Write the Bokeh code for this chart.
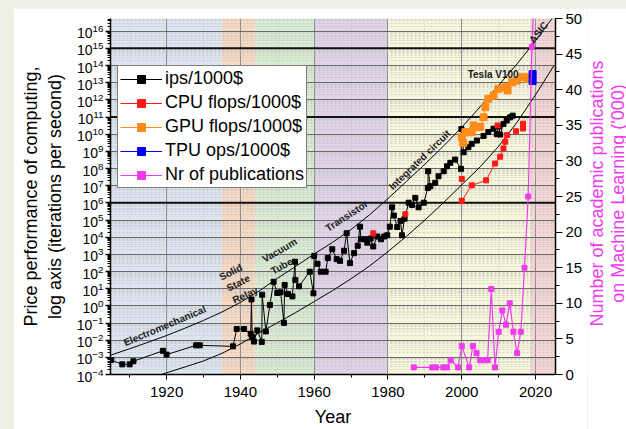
import math
from bokeh.plotting import figure
from bokeh.models import (Range1d, LinearAxis, LinearScale, FixedTicker, SingleIntervalTicker,
                          LogTickFormatter, BoxAnnotation, Label, Span, Spacer)
from bokeh.layouts import row, column
from bokeh.embed import file_html
from bokeh.resources import INLINE

FONT = "Liberation Sans"
nan = float("nan")

# ---------------- data ----------------
era_name = ["Electromechanical", "Solid State Relay", "Vacuum Tube", "Transistor",
            "Integrated circuit", "ASIC"]
era_start = [1904.8, 1935, 1944, 1960, 1980, 2018.5]
era_end = [1935, 1944, 1960, 1980, 2018.5, 2025.4]
era_color = ["#dbe5ef", "#f6d9c3", "#d9ead3", "#e0d3e8", "#f6f6dc", "#f4d6d6"]

# ips/1000$ (log10 values)
ips_year = [1905, 1908, 1910, 1911, 1919, 1920, 1928, 1929, 1938, 1939, 1941, 1942.8,
            1943, 1943.2, 1943.7, 1944.6, 1945.8, 1945.9, 1946.9, 1948, 1949, 1950,
            1950.9, 1951.8, 1952, 1952.9, 1954.1, 1954.8, 1954.9, 1955.9, 1958.8, 1959.8,
            1960, 1960.9, 1961.8, 1963.1, 1963.7, 1964.9, 1966.1, 1967, 1968.1, 1968.8,
            1969.7, 1970.8, 1971.8, 1972.4, 1972.7, 1973.9, 1974.4, 1975.3, 1976, 1977.1,
            1978.1, 1979, 1979.8, 1980.5, 1981.1, 1981.6, 1982.5, 1983.4, 1983.8, 1984.5,
            1985.6, 1986.5, 1987.4, 1988.3, 1989.7, 1990.8, 1990.9, 1991.5, 1992.8, 1993.7,
            1995.1, 1996, 1996.9, 1998.2, 1999.8, 1999.9, 2000.5, 2001.8, 2002.7, 2004.1,
            2005.9, 2007.2, 2008.6, 2009.5, 2010, 2010.4, 2011.3, 2012.2, 2013.1, 2013.8]
ips_exp = [-3.16, -3.41, -3.41, -3.23, -2.62, -2.84, -2.30, -2.30, -2.36, -1.35, -1.35, -1.63,
           0.37, -1.82, -2.08, -1.43, -2.10, 0.65, -1.49, 0.05, 1.40, 0.75,
           0.79, -0.99, 1.22, 0.69, 0.55, 2.57, 1.51, 1.14, 1.99, 0.73,
           2.91, 2.45, 1.99, 1.99, 2.78, 3.30, 2.72, 2.62, 3.21, 4.23,
           2.49, 3.07, 3.50, 4.61, 3.88, 3.88, 3.68, 3.92, 3.46, 4.04,
           3.88, 4.04, 4.11, 4.61, 5.74, 5.26, 4.59, 4.95, 4.11, 5.08,
           6.01, 5.88, 6.29, 5.74, 6.01, 6.87, 7.84, 6.97, 7.17, 7.55,
           7.84, 8.13, 8.33, 8.52, 7.98, 10.30, 8.95, 9.24, 9.44, 9.63,
           9.90, 10.13, 10.32, 10.00, 10.45, 9.98, 10.60, 10.80, 10.98, 11.08]

# CPU flops/1000$ (log10 values, nan = gap in the line)
cpu_year = [1976, nan, 1984.7, nan, 2000, 2002.7, 2006.6, 2009, 2010.4, 2011.3, 2011.8, 2012.3,
            nan, 2000, nan, 2009.7, nan, 2014.7, nan, 2016.6, 2016.6]
cpu_exp = [4.23, nan, 5.34, nan, 6.12, 7.02, 7.31, 8.29, 8.69, 9.17, 9.56, 9.95,
           nan, 7.39, nan, 10.51, nan, 10.17, nan, 10.33, 10.61]

# GPU flops/1000$ (log10 values)
gpu_year = [2000, 2000.4, 2001, 2002.7, 2003.2, 2004, 2005, 2005.9, 2006.4, 2007.2, 2008.6,
            2009.9, 2011.8, 2012.4, 2013.6, 2014.9, 2016.3, 2017.6, 2018]
gpu_exp = [9.84, 9.5, 10.12, 10.12, 10.51, 10.4, 10.42, 10.99, 11.58, 12.06, 12.25,
           12.64, 12.74, 12.55, 13.02, 13.12, 13.32, 13.32, 13.22]

# TPU ops/1000$ (log10 values)
tpu_year = [2019.2, 2019.2]
tpu_exp = [13.1, 13.5]

# Number of ML publications ('000)
pub_year = [1987, 1992, 1993, 1995, 1996, 1997, 1999, 2000, 2002, 2003, 2004, 2005, 2006,
            2007, 2008, 2009, 2010, 2011, 2012, 2013, 2014, 2015, 2016, 2017, 2018, 2019, 2020]
pub_count = [1, 1, 1, 1, 1, 2, 1, 4, 1, 4, 3, 2, 2, 2, 12, 1, 6, 9, 7, 10, 6, 3, 6, 15, 25, 46, 57]

# trend curves (log10 values)
upper_year = [1905, 1910, 1915, 1920, 1925, 1930, 1935, 1940, 1945, 1950, 1955, 1960, 1965,
              1970, 1975, 1980, 1985, 1990, 1995, 2000, 2005, 2010, 2015, 2020, 2025]
upper_exp = [-2.86, -2.5, -2.12, -1.73, -1.3, -0.85, -0.36, 0.2, 0.85, 1.6, 2.3, 3.02, 3.7,
             4.45, 5.3, 6.25, 7.25, 8.25, 9.3, 10.4, 11.6, 12.85, 14.1, 15.45, 16.9]
lower_year = [1915, 1920, 1925, 1930, 1935, 1940, 1945, 1950, 1955, 1960, 1965, 1970, 1975,
              1980, 1985, 1990, 1995, 2000, 2005, 2010, 2015, 2020, 2025]
lower_exp = [-4.25, -3.9, -3.56, -3.21, -2.77, -2.22, -1.58, -0.99, -0.39, 0.25, 0.89, 1.58,
             2.32, 3.16, 4.05, 5.0, 6.0, 7.05, 8.1, 9.3, 10.7, 12.3, 14.0]

# text annotations: (text, year, log10 value, angle in degrees)
notes = [("Electromechanical", 1919.5, -1.16, 23), ("Solid", 1937.4, 1.97, 27),
         ("State", 1939.4, 1.33, 27), ("Relay", 1941.3, 0.63, 25),
         ("Vacuum", 1950.6, 3.24, 30), ("Tube", 1951.2, 2.32, 29),
         ("Transistor", 1968.8, 5.24, 33), ("Integrated circuit", 1988.6, 8.51, 44),
         ("ASIC", 2020.8, 15.93, 52), ("Tesla V100", 2008.5, 13.5, 0)]

heavy_decades = [15, 11, 6]

left_title = "Price performance of computing,\nlog axis (iterations per second)"
right_title = "Number of academic publications\non Machine Learning ('000)"


def pw(v):
    return [10.0 ** e if e == e else nan for e in v]


# ---------------- main figure ----------------
p = figure(width=574, height=421,
           x_range=Range1d(1904.8, 2025.4), y_range=Range1d(1e-4, 10 ** 16.74),
           y_axis_type="log", output_backend="svg", toolbar_location=None,
           min_border_left=97, min_border_right=32, min_border_top=10, min_border_bottom=53,
           background_fill_color="white", border_fill_color="white", outline_line_color=None)
p.extra_y_ranges = {"pubs": Range1d(0, 50)}
p.extra_y_scales = {"pubs": LinearScale()}

for s, e, c in zip(era_start, era_end, era_color):
    p.add_layout(BoxAnnotation(left=s, right=e, fill_color=c, fill_alpha=1.0,
                               line_color=None, level="image"))

# ticks & grids
yt = FixedTicker(ticks=[10.0 ** k for k in range(-4, 17)],
                 minor_ticks=[m * 10.0 ** k for k in range(-4, 17) for m in range(2, 10)])
xt = SingleIntervalTicker(interval=20, num_minor_ticks=2)
p.xaxis.ticker = xt
p.xgrid.ticker = xt
p.yaxis.ticker = yt
p.ygrid.ticker = yt

p.ygrid.grid_line_color = "#6a6a6a"
p.ygrid.grid_line_width = 1
p.ygrid.minor_grid_line_color = "#b8b8b8"
p.ygrid.minor_grid_line_alpha = 0.55
p.ygrid.minor_grid_line_dash = "2 2"
p.xgrid.grid_line_color = "#8a8a8a"
p.xgrid.grid_line_width = 1
p.xgrid.minor_grid_line_color = "#c4c4c4"
p.xgrid.minor_grid_line_alpha = 0.6
p.xgrid.minor_grid_line_dash = "2 2"

for d in heavy_decades:
    p.add_layout(Span(location=10.0 ** d, dimension="width", line_color="#111111",
                      line_width=2, level="underlay"))

# axes
xa = p.xaxis[0]
xa.axis_label = "Year"
xa.axis_label_text_font = FONT
xa.axis_label_text_font_size = "18px"
xa.axis_label_text_font_style = "normal"
xa.axis_label_text_color = "black"
xa.axis_label_standoff = 7
xa.major_label_text_font = FONT
xa.major_label_text_font_size = "15px"
xa.major_label_text_color = "black"
xa.major_label_standoff = 7
xa.axis_line_color = "black"
xa.axis_line_width = 1.5
xa.major_tick_out = 5
xa.major_tick_in = 0
xa.minor_tick_out = 3
xa.minor_tick_in = 0
xa.major_tick_line_color = "black"
xa.minor_tick_line_color = "black"

ya = p.yaxis[0]
ya.formatter = LogTickFormatter()
ya.axis_label = left_title
ya.axis_label_text_font = FONT
ya.axis_label_text_font_size = "18px"
ya.axis_label_text_font_style = "normal"
ya.axis_label_text_color = "black"
ya.axis_label_standoff = 9
ya.major_label_text_font = FONT
ya.major_label_text_font_size = "14px"
ya.major_label_text_color = "black"
ya.major_label_standoff = 2
ya.axis_line_color = "black"
ya.axis_line_width = 1.5
ya.major_tick_out = 5
ya.major_tick_in = 0
ya.minor_tick_out = 3
ya.minor_tick_in = 0
ya.major_tick_line_color = "black"
ya.minor_tick_line_color = "black"
ya.major_tick_line_width = 1.5

ra = LinearAxis(y_range_name="pubs", ticker=SingleIntervalTicker(interval=5, num_minor_ticks=2))
ra.major_label_text_font = FONT
ra.major_label_text_font_size = "15px"
ra.major_label_text_color = "black"
ra.major_label_standoff = 3
ra.axis_line_color = "black"
ra.axis_line_width = 1.5
ra.major_tick_out = 7
ra.major_tick_in = 0
ra.minor_tick_out = 4
ra.minor_tick_in = 0
ra.major_tick_line_color = "black"
ra.minor_tick_line_color = "black"
p.add_layout(ra, "right")

# trend curves
p.line(upper_year, pw(upper_exp), line_color="black", line_width=1)
p.line(lower_year, pw(lower_exp), line_color="black", line_width=1)

# series
p.line(ips_year, pw(ips_exp), line_color="black", line_width=1, legend_label="ips/1000$")
p.scatter(ips_year, pw(ips_exp), marker="square", size=5, fill_color="black",
          line_color="black", legend_label="ips/1000$")

p.line(cpu_year, pw(cpu_exp), line_color="#ff1a1a", line_width=1, legend_label="CPU flops/1000$")
p.scatter(cpu_year, pw(cpu_exp), marker="square", size=5, fill_color="#ff1a1a",
          line_color="#ff1a1a", legend_label="CPU flops/1000$")

p.line(gpu_year, pw(gpu_exp), line_color="#ff8c1a", line_width=1, legend_label="GPU flops/1000$")
p.scatter(gpu_year, pw(gpu_exp), marker="square", size=7, fill_color="#ff8c1a",
          line_color="#ff8c1a", legend_label="GPU flops/1000$")

p.line(tpu_year, pw(tpu_exp), line_color="#0000ee", line_width=1, legend_label="TPU ops/1000$")
p.scatter(tpu_year, pw(tpu_exp), marker="square", size=7, fill_color="#0000ee",
          line_color="#0000ee", legend_label="TPU ops/1000$")

p.line(pub_year, pub_count, y_range_name="pubs", line_color="#ee3bee", line_width=1.2,
       legend_label="Nr of publications")
p.scatter(pub_year, pub_count, y_range_name="pubs", marker="square", size=5,
          fill_color="#ee3bee", line_color="#ee3bee", legend_label="Nr of publications")

# annotations
for txt, yr, ex, ang in notes:
    p.add_layout(Label(x=yr, y=10.0 ** ex, text=txt, angle=ang, angle_units="deg",
                       text_font=FONT, text_font_style="bold", text_font_size="10px",
                       text_color="#1a1a1a", text_align="center", text_baseline="middle"))

# legend
lg = p.legend[0]
lg.location = (7, 186)
lg.label_text_font = FONT
lg.label_text_font_size = "18px"
lg.label_text_color = "black"
lg.glyph_width = 42
lg.glyph_height = 20
lg.label_height = 20
lg.label_standoff = 3
lg.spacing = 3
lg.padding = 2
lg.margin = 0
lg.border_line_color = "black"
lg.border_line_width = 1
lg.background_fill_color = "white"
lg.background_fill_alpha = 1.0

# ---------------- strip holding the right-hand axis title ----------------
q = figure(width=39, height=421, x_range=Range1d(0, 1), y_range=Range1d(0, 1),
           x_axis_location=None, y_axis_location=None, output_backend="svg",
           toolbar_location=None, min_border=0, outline_line_color=None,
           background_fill_color="white", border_fill_color="white")
q.grid.visible = False
q.add_layout(Label(x=19.5, y=181, x_units="screen", y_units="screen", text=right_title,
                   angle=90, angle_units="deg", text_font=FONT, text_font_size="18px",
                   text_color="#ee3bee", text_align="center", text_baseline="middle",
                   text_line_height=1.05))

layout = column(Spacer(width=626, height=8),
                row(Spacer(width=13, height=421), p, q),
                styles={"background-color": "#edf1e5"})

open("out.html", "w").write(file_html(layout, INLINE))
